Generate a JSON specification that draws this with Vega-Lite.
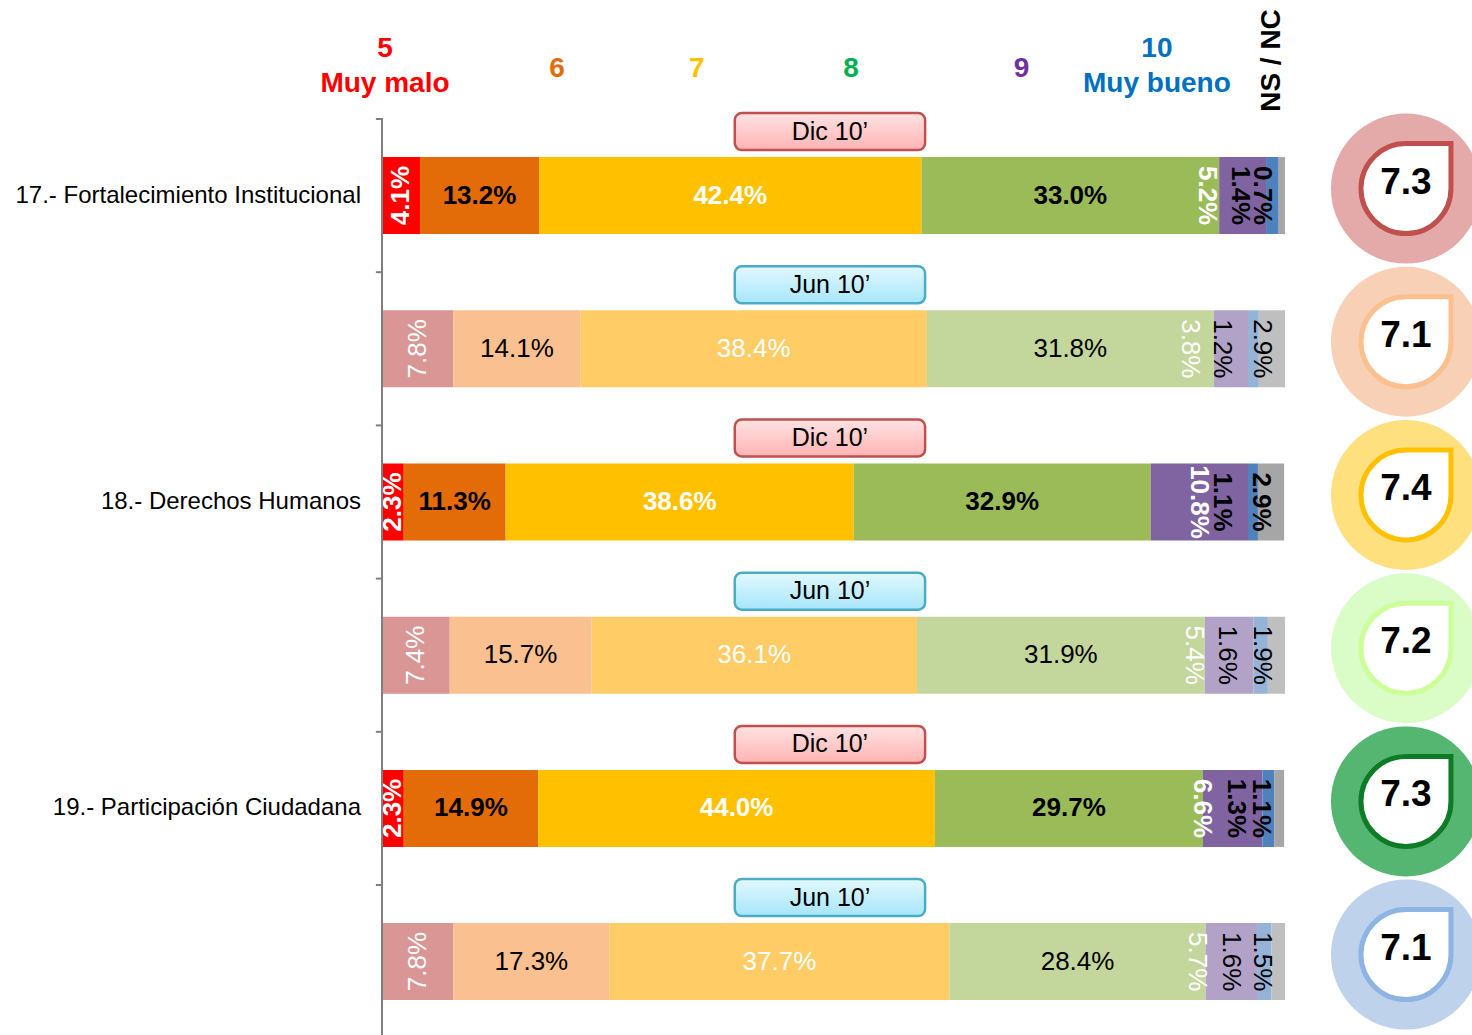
{
  "$schema": "https://vega.github.io/schema/vega-lite/v6.json",
  "width": 1090,
  "height": 916,
  "padding": {"left": 382, "top": 119, "right": 0, "bottom": 0},
  "autosize": {"type": "none"},
  "background": "white",
  "config": {"view": {"stroke": null}, "font": "Liberation Sans", "text": {"font": "Liberation Sans"}},
  "datasets": {
    "bars": [
      {"row": 1, "per": "Dic", "cat": "5", "k": 5, "pct": 0.041},
      {"row": 1, "per": "Dic", "cat": "6", "k": 6, "pct": 0.132},
      {"row": 1, "per": "Dic", "cat": "7", "k": 7, "pct": 0.424},
      {"row": 1, "per": "Dic", "cat": "8", "k": 8, "pct": 0.330},
      {"row": 1, "per": "Dic", "cat": "9", "k": 9, "pct": 0.052},
      {"row": 1, "per": "Dic", "cat": "10", "k": 10, "pct": 0.014},
      {"row": 1, "per": "Dic", "cat": "NS", "k": 11, "pct": 0.007},
      {"row": 2, "per": "Jun", "cat": "5", "k": 5, "pct": 0.078},
      {"row": 2, "per": "Jun", "cat": "6", "k": 6, "pct": 0.141},
      {"row": 2, "per": "Jun", "cat": "7", "k": 7, "pct": 0.384},
      {"row": 2, "per": "Jun", "cat": "8", "k": 8, "pct": 0.318},
      {"row": 2, "per": "Jun", "cat": "9", "k": 9, "pct": 0.038},
      {"row": 2, "per": "Jun", "cat": "10", "k": 10, "pct": 0.012},
      {"row": 2, "per": "Jun", "cat": "NS", "k": 11, "pct": 0.029},
      {"row": 3, "per": "Dic", "cat": "5", "k": 5, "pct": 0.023},
      {"row": 3, "per": "Dic", "cat": "6", "k": 6, "pct": 0.113},
      {"row": 3, "per": "Dic", "cat": "7", "k": 7, "pct": 0.386},
      {"row": 3, "per": "Dic", "cat": "8", "k": 8, "pct": 0.329},
      {"row": 3, "per": "Dic", "cat": "9", "k": 9, "pct": 0.108},
      {"row": 3, "per": "Dic", "cat": "10", "k": 10, "pct": 0.011},
      {"row": 3, "per": "Dic", "cat": "NS", "k": 11, "pct": 0.029},
      {"row": 4, "per": "Jun", "cat": "5", "k": 5, "pct": 0.074},
      {"row": 4, "per": "Jun", "cat": "6", "k": 6, "pct": 0.157},
      {"row": 4, "per": "Jun", "cat": "7", "k": 7, "pct": 0.361},
      {"row": 4, "per": "Jun", "cat": "8", "k": 8, "pct": 0.319},
      {"row": 4, "per": "Jun", "cat": "9", "k": 9, "pct": 0.054},
      {"row": 4, "per": "Jun", "cat": "10", "k": 10, "pct": 0.016},
      {"row": 4, "per": "Jun", "cat": "NS", "k": 11, "pct": 0.019},
      {"row": 5, "per": "Dic", "cat": "5", "k": 5, "pct": 0.023},
      {"row": 5, "per": "Dic", "cat": "6", "k": 6, "pct": 0.149},
      {"row": 5, "per": "Dic", "cat": "7", "k": 7, "pct": 0.440},
      {"row": 5, "per": "Dic", "cat": "8", "k": 8, "pct": 0.297},
      {"row": 5, "per": "Dic", "cat": "9", "k": 9, "pct": 0.066},
      {"row": 5, "per": "Dic", "cat": "10", "k": 10, "pct": 0.013},
      {"row": 5, "per": "Dic", "cat": "NS", "k": 11, "pct": 0.011},
      {"row": 6, "per": "Jun", "cat": "5", "k": 5, "pct": 0.078},
      {"row": 6, "per": "Jun", "cat": "6", "k": 6, "pct": 0.173},
      {"row": 6, "per": "Jun", "cat": "7", "k": 7, "pct": 0.377},
      {"row": 6, "per": "Jun", "cat": "8", "k": 8, "pct": 0.284},
      {"row": 6, "per": "Jun", "cat": "9", "k": 9, "pct": 0.057},
      {"row": 6, "per": "Jun", "cat": "10", "k": 10, "pct": 0.016},
      {"row": 6, "per": "Jun", "cat": "NS", "k": 11, "pct": 0.015}
    ],
    "rows": [
      {"row": 1, "per": "Dic", "label": "Dic 10’", "score": 7.3},
      {"row": 2, "per": "Jun", "label": "Jun 10’", "score": 7.1},
      {"row": 3, "per": "Dic", "label": "Dic 10’", "score": 7.4},
      {"row": 4, "per": "Jun", "label": "Jun 10’", "score": 7.2},
      {"row": 5, "per": "Dic", "label": "Dic 10’", "score": 7.3},
      {"row": 6, "per": "Jun", "label": "Jun 10’", "score": 7.1}
    ],
    "items": [
      {"row": 1, "name": "17.- Fortalecimiento Institucional"},
      {"row": 3, "name": "18.- Derechos Humanos"},
      {"row": 5, "name": "19.- Participación Ciudadana"}
    ],
    "header": [{"note": "header"}]
  },
  "layer": [
    {
      "data": {"name": "bars"},
      "transform": [{"filter": "datum.per == 'Dic'"}],
      "mark": {"type": "bar", "orient": "horizontal", "height": 77},
      "encoding": {
        "y": {"field": "row", "type": "quantitative", "scale": {"domain": [0.5, 6.479], "reverse": true, "nice": false, "zero": false, "padding": 0}, "axis": null},
        "x": {"field": "pct", "type": "quantitative", "stack": "zero", "scale": {"domain": [-0.00111, 1.20732], "nice": false, "zero": false}, "axis": null},
        "color": {"field": "cat", "type": "nominal", "scale": {"domain": ["5", "6", "7", "8", "9", "10", "NS"], "range": ["#FF0000", "#E36C09", "#FFC000", "#9BBB59", "#8064A2", "#4F81BD", "#A6A6A6"]}, "legend": null},
        "order": {"field": "k", "type": "quantitative"}
      }
    },
    {
      "data": {"name": "bars"},
      "transform": [{"filter": "datum.per == 'Jun'"}],
      "mark": {"type": "bar", "orient": "horizontal", "height": 77},
      "encoding": {
        "y": {"field": "row", "type": "quantitative", "axis": null},
        "x": {"field": "pct", "type": "quantitative", "stack": "zero", "axis": null},
        "color": {"field": "cat", "type": "nominal", "scale": {"domain": ["5", "6", "7", "8", "9", "10", "NS"], "range": ["#D99694", "#FAC090", "#FFCC66", "#C3D69B", "#B3A2C7", "#95B3D7", "#BFBFBF"]}, "legend": null},
        "order": {"field": "k", "type": "quantitative"}
      }
    },
    {
      "data": {"name": "header"},
      "mark": {"type": "rule", "color": "#7f7f7f", "strokeWidth": 2},
      "encoding": {
        "x": {"datum": -0.00111, "type": "quantitative", "axis": null},
        "y": {"datum": 0.493, "type": "quantitative", "axis": null},
        "y2": {"datum": 6.479}
      }
    },
    {
      "data": {"name": "rows"},
      "mark": {"type": "rule", "color": "#7f7f7f", "strokeWidth": 2, "yOffset": -76.6},
      "encoding": {
        "y": {"field": "row", "type": "quantitative", "axis": null},
        "x": {"datum": -0.0079, "type": "quantitative", "axis": null},
        "x2": {"datum": -0.00111}
      }
    },
    {
      "data": {"name": "bars"},
      "transform": [{"filter": "datum.per == 'Dic'"}],
      "mark": {"type": "text", "fontSize": 26, "fontWeight": "bold", "align": "center", "baseline": "middle"},
      "encoding": {
        "y": {"field": "row", "type": "quantitative", "axis": null},
        "x": {"field": "pct", "type": "quantitative", "stack": "zero", "bandPosition": 0.5, "axis": null},
        "detail": {"field": "k", "type": "nominal"},
        "order": {"field": "k", "type": "quantitative"},
        "text": {"condition": {"test": "datum.k <= 8 || (datum.k == 9 && datum.pct >= 0.08)", "field": "pct", "type": "quantitative", "format": ".1%"}, "value": ""},
        "angle": {"condition": [{"test": "datum.k == 5", "value": 270}, {"test": "datum.k == 9", "value": 90}], "value": 0},
        "color": {"condition": {"test": "datum.k == 5 || datum.k == 7 || datum.k == 9", "value": "white"}, "value": "black"}
      }
    },
    {
      "data": {"name": "bars"},
      "transform": [{"filter": "datum.per == 'Jun'"}],
      "mark": {"type": "text", "fontSize": 26, "fontWeight": "normal", "align": "center", "baseline": "middle"},
      "encoding": {
        "y": {"field": "row", "type": "quantitative", "axis": null},
        "x": {"field": "pct", "type": "quantitative", "stack": "zero", "bandPosition": 0.5, "axis": null},
        "detail": {"field": "k", "type": "nominal"},
        "order": {"field": "k", "type": "quantitative"},
        "text": {"condition": {"test": "datum.k <= 8 || (datum.k == 9 && datum.pct >= 0.08)", "field": "pct", "type": "quantitative", "format": ".1%"}, "value": ""},
        "angle": {"condition": [{"test": "datum.k == 5", "value": 270}, {"test": "datum.k == 9", "value": 90}], "value": 0},
        "color": {"condition": {"test": "datum.k == 5 || datum.k == 7 || datum.k == 9", "value": "white"}, "value": "black"}
      }
    },
    {
      "data": {"name": "bars"},
      "transform": [{"filter": "datum.per == 'Dic'"}],
      "mark": {"type": "text", "fontSize": 26, "fontWeight": "bold", "align": "center", "baseline": "middle", "angle": 90, "xOffset": -53.5, "color": "white"},
      "encoding": {
        "y": {"field": "row", "type": "quantitative", "axis": null},
        "x": {"field": "pct", "type": "quantitative", "stack": "zero", "bandPosition": 0.88, "axis": null},
        "detail": {"field": "k", "type": "nominal"},
        "order": {"field": "k", "type": "quantitative"},
        "text": {"condition": {"test": "datum.k == 9 && datum.pct < 0.08", "field": "pct", "type": "quantitative", "format": ".1%"}, "value": ""}
      }
    },
    {
      "data": {"name": "bars"},
      "transform": [{"filter": "datum.per == 'Jun'"}],
      "mark": {"type": "text", "fontSize": 26, "fontWeight": "normal", "align": "center", "baseline": "middle", "angle": 90, "xOffset": -53.5, "color": "white"},
      "encoding": {
        "y": {"field": "row", "type": "quantitative", "axis": null},
        "x": {"field": "pct", "type": "quantitative", "stack": "zero", "bandPosition": 0.88, "axis": null},
        "detail": {"field": "k", "type": "nominal"},
        "order": {"field": "k", "type": "quantitative"},
        "text": {"condition": {"test": "datum.k == 9 && datum.pct < 0.08", "field": "pct", "type": "quantitative", "format": ".1%"}, "value": ""}
      }
    },
    {
      "data": {"name": "bars"},
      "transform": [{"filter": "datum.per == 'Dic'"}],
      "mark": {"type": "text", "fontSize": 26, "fontWeight": "bold", "align": "center", "baseline": "middle", "angle": 90, "xOffset": -26, "color": "black"},
      "encoding": {
        "y": {"field": "row", "type": "quantitative", "axis": null},
        "x": {"field": "pct", "type": "quantitative", "stack": "zero", "bandPosition": 0, "axis": null},
        "detail": {"field": "k", "type": "nominal"},
        "order": {"field": "k", "type": "quantitative"},
        "text": {"condition": {"test": "datum.k == 10", "field": "pct", "type": "quantitative", "format": ".1%"}, "value": ""}
      }
    },
    {
      "data": {"name": "bars"},
      "transform": [{"filter": "datum.per == 'Jun'"}],
      "mark": {"type": "text", "fontSize": 26, "fontWeight": "normal", "align": "center", "baseline": "middle", "angle": 90, "xOffset": -26, "color": "black"},
      "encoding": {
        "y": {"field": "row", "type": "quantitative", "axis": null},
        "x": {"field": "pct", "type": "quantitative", "stack": "zero", "bandPosition": 0, "axis": null},
        "detail": {"field": "k", "type": "nominal"},
        "order": {"field": "k", "type": "quantitative"},
        "text": {"condition": {"test": "datum.k == 10", "field": "pct", "type": "quantitative", "format": ".1%"}, "value": ""}
      }
    },
    {
      "data": {"name": "bars"},
      "transform": [{"filter": "datum.per == 'Dic'"}],
      "mark": {"type": "text", "fontSize": 26, "fontWeight": "bold", "align": "center", "baseline": "middle", "angle": 90, "xOffset": -23, "color": "black"},
      "encoding": {
        "y": {"field": "row", "type": "quantitative", "axis": null},
        "x": {"field": "pct", "type": "quantitative", "stack": "zero", "bandPosition": 1, "axis": null},
        "detail": {"field": "k", "type": "nominal"},
        "order": {"field": "k", "type": "quantitative"},
        "text": {"condition": {"test": "datum.k == 11", "field": "pct", "type": "quantitative", "format": ".1%"}, "value": ""}
      }
    },
    {
      "data": {"name": "bars"},
      "transform": [{"filter": "datum.per == 'Jun'"}],
      "mark": {"type": "text", "fontSize": 26, "fontWeight": "normal", "align": "center", "baseline": "middle", "angle": 90, "xOffset": -23, "color": "black"},
      "encoding": {
        "y": {"field": "row", "type": "quantitative", "axis": null},
        "x": {"field": "pct", "type": "quantitative", "stack": "zero", "bandPosition": 1, "axis": null},
        "detail": {"field": "k", "type": "nominal"},
        "order": {"field": "k", "type": "quantitative"},
        "text": {"condition": {"test": "datum.k == 11", "field": "pct", "type": "quantitative", "format": ".1%"}, "value": ""}
      }
    },
    {
      "data": {"name": "rows"},
      "transform": [{"filter": "datum.per == 'Dic'"}],
      "mark": {"type": "bar", "orient": "horizontal", "height": 37, "cornerRadius": 7, "yOffset": -64, "stroke": "#C0504D", "strokeWidth": 2.5,
               "fill": {"gradient": "linear", "x1": 0, "y1": 0, "x2": 0, "y2": 1, "stops": [{"offset": 0, "color": "#FFE3E3"}, {"offset": 1, "color": "#FFB3B3"}]}},
      "encoding": {
        "y": {"field": "row", "type": "quantitative", "axis": null},
        "x": {"datum": 0.390, "type": "quantitative", "axis": null},
        "x2": {"datum": 0.601}
      }
    },
    {
      "data": {"name": "rows"},
      "transform": [{"filter": "datum.per == 'Jun'"}],
      "mark": {"type": "bar", "orient": "horizontal", "height": 37, "cornerRadius": 7, "yOffset": -64, "stroke": "#4BACC6", "strokeWidth": 2.5,
               "fill": {"gradient": "linear", "x1": 0, "y1": 0, "x2": 0, "y2": 1, "stops": [{"offset": 0, "color": "#E3F8FF"}, {"offset": 1, "color": "#A6E6FA"}]}},
      "encoding": {
        "y": {"field": "row", "type": "quantitative", "axis": null},
        "x": {"datum": 0.390, "type": "quantitative", "axis": null},
        "x2": {"datum": 0.601}
      }
    },
    {
      "data": {"name": "rows"},
      "mark": {"type": "text", "fontSize": 25, "align": "center", "baseline": "middle", "yOffset": -64, "color": "black"},
      "encoding": {
        "y": {"field": "row", "type": "quantitative", "axis": null},
        "x": {"datum": 0.4955, "type": "quantitative", "axis": null},
        "text": {"field": "label", "type": "nominal"}
      }
    },
    {
      "data": {"name": "items"},
      "mark": {"type": "text", "fontSize": 24, "align": "right", "baseline": "middle", "xOffset": -22, "color": "black"},
      "encoding": {
        "y": {"field": "row", "type": "quantitative", "axis": null},
        "x": {"datum": 0, "type": "quantitative", "axis": null},
        "text": {"field": "name", "type": "nominal"}
      }
    },
    {
      "data": {"name": "rows"},
      "mark": {"type": "point", "shape": "circle", "size": 22500, "filled": true, "opacity": 1, "strokeWidth": 0, "yOffset": -7},
      "encoding": {
        "y": {"field": "row", "type": "quantitative", "axis": null},
        "x": {"datum": 1.1341, "type": "quantitative", "axis": null},
        "fill": {"field": "row", "type": "ordinal", "scale": {"domain": [1, 2, 3, 4, 5, 6], "range": ["#E4AAA9", "#F8D0B6", "#FFE07E", "#DAFCC6", "#55B672", "#BFD2EC"]}, "legend": null}
      }
    },
    {
      "data": {"name": "rows"},
      "mark": {"type": "point", "shape": "M 1 -1 L 1 0 A 1 1 0 1 1 0 -1 Z", "size": 8100, "filled": true, "fill": "white", "opacity": 1, "strokeWidth": 5, "yOffset": -7},
      "encoding": {
        "y": {"field": "row", "type": "quantitative", "axis": null},
        "x": {"datum": 1.1341, "type": "quantitative", "axis": null},
        "stroke": {"field": "row", "type": "ordinal", "scale": {"domain": [1, 2, 3, 4, 5, 6], "range": ["#C0504D", "#FAC090", "#FFC000", "#CCFF99", "#0E7B26", "#8DB4E2"]}, "legend": null}
      }
    },
    {
      "data": {"name": "rows"},
      "mark": {"type": "text", "fontSize": 37, "fontWeight": "bold", "align": "center", "baseline": "alphabetic", "yOffset": -2, "color": "black"},
      "encoding": {
        "y": {"field": "row", "type": "quantitative", "axis": null},
        "x": {"datum": 1.1341, "type": "quantitative", "axis": null},
        "text": {"field": "score", "type": "quantitative", "format": ".1f"}
      }
    },
    {
      "data": {"name": "header"},
      "mark": {"type": "text", "text": ["5", "Muy malo"], "fontSize": 28, "fontWeight": "bold", "align": "center", "baseline": "alphabetic", "lineHeight": 35, "color": "#FF0000"},
      "encoding": {"x": {"datum": 0.0022, "type": "quantitative", "axis": null}, "y": {"datum": 0.0953, "type": "quantitative", "axis": null}}
    },
    {
      "data": {"name": "header"},
      "mark": {"type": "text", "text": "6", "fontSize": 28, "fontWeight": "bold", "align": "center", "baseline": "alphabetic", "color": "#E36C09"},
      "encoding": {"x": {"datum": 0.193, "type": "quantitative", "axis": null}, "y": {"datum": 0.2258, "type": "quantitative", "axis": null}}
    },
    {
      "data": {"name": "header"},
      "mark": {"type": "text", "text": "7", "fontSize": 28, "fontWeight": "bold", "align": "center", "baseline": "alphabetic", "color": "#FFC000"},
      "encoding": {"x": {"datum": 0.348, "type": "quantitative", "axis": null}, "y": {"datum": 0.2258, "type": "quantitative", "axis": null}}
    },
    {
      "data": {"name": "header"},
      "mark": {"type": "text", "text": "8", "fontSize": 28, "fontWeight": "bold", "align": "center", "baseline": "alphabetic", "color": "#00B050"},
      "encoding": {"x": {"datum": 0.519, "type": "quantitative", "axis": null}, "y": {"datum": 0.2258, "type": "quantitative", "axis": null}}
    },
    {
      "data": {"name": "header"},
      "mark": {"type": "text", "text": "9", "fontSize": 28, "fontWeight": "bold", "align": "center", "baseline": "alphabetic", "color": "#7030A0"},
      "encoding": {"x": {"datum": 0.708, "type": "quantitative", "axis": null}, "y": {"datum": 0.2258, "type": "quantitative", "axis": null}}
    },
    {
      "data": {"name": "header"},
      "mark": {"type": "text", "text": ["10", "Muy bueno"], "fontSize": 28, "fontWeight": "bold", "align": "center", "baseline": "alphabetic", "lineHeight": 35, "color": "#0070C0"},
      "encoding": {"x": {"datum": 0.858, "type": "quantitative", "axis": null}, "y": {"datum": 0.0953, "type": "quantitative", "axis": null}}
    },
    {
      "data": {"name": "header"},
      "mark": {"type": "text", "text": "NS / NC", "fontSize": 28, "fontWeight": "bold", "align": "center", "baseline": "middle", "angle": 270, "color": "black"},
      "encoding": {"x": {"datum": 0.986, "type": "quantitative", "axis": null}, "y": {"datum": 0.1181, "type": "quantitative", "axis": null}}
    }
  ],
  "resolve": {"scale": {"color": "independent"}}
}
